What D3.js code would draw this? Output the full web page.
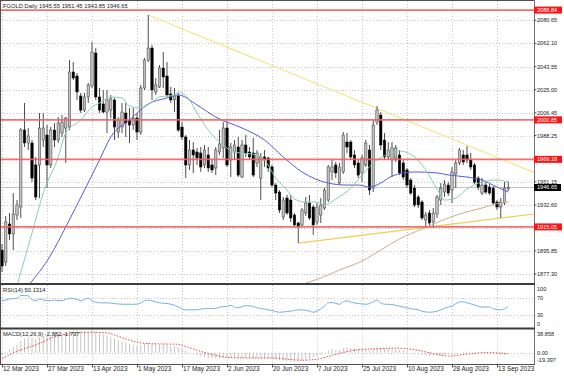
<!DOCTYPE html>
<html>
<head>
<meta charset="utf-8">
<script src="https://cdn.jsdelivr.net/npm/d3@7"></script>
<style>
  body { margin: 0; background: #fff; }
  svg { display: block; font-family: 'Liberation Sans', Arial, sans-serif; }
</style>
</head>
<body>
<div class="svg-container"></div>
<script>
// FGOLD daily bars, one value per bar
const opens = [
  1896.5, 1886.9, 1917.4, 1909.4, 1924.6, 1931.0, 1992.7, 1982.3, 1982.3, 1964.7,
  1964.7, 1984.7, 1988.7, 1964.7, 1992.7, 1984.7, 1990.3, 1994.3, 1995.1, 2039.2,
  2036.0, 2020.0, 2008.7, 2019.2, 2028.0, 2054.4, 2019.2, 2013.6, 2007.1, 2008.7,
  2016.8, 1991.1, 1995.1, 2006.3, 2000.7, 1996.7, 2002.3, 1991.1, 2026.4, 2048.8,
  2058.4, 2023.2, 2027.2, 2042.4, 2036.0, 2021.6, 2016.8, 2020.0, 1995.1, 1987.1,
  1964.7, 1976.7, 1975.1, 1974.3, 1964.7, 1972.7, 1964.7, 1962.3, 1975.1, 1978.3,
  1994.3, 1968.7, 1975.1, 1979.1, 1955.0, 1980.7, 1975.1, 1974.3, 1966.3, 1954.2,
  1971.1, 1970.3, 1963.1, 1948.6, 1943.0, 1923.0, 1938.2, 1936.6, 1924.6, 1918.2,
  1916.6, 1926.2, 1934.2, 1931.0, 1919.0, 1924.6, 1930.2, 1936.6, 1959.1, 1964.7,
  1950.2, 1959.1, 1983.1, 1983.1, 1972.7, 1966.3, 1958.3, 1964.7, 1976.7, 1946.2,
  1999.1, 2004.7, 1984.7, 1971.1, 1968.7, 1970.3, 1972.7, 1966.3, 1960.7, 1952.6,
  1946.2, 1939.0, 1935.0, 1920.6, 1926.2, 1919.0, 1925.4, 1936.6, 1943.0, 1948.6,
  1944.6, 1957.5, 1966.3, 1972.7, 1972.7, 1968.7, 1964.7, 1954.2, 1942.2, 1948.6,
  1947.0, 1946.2, 1935.0, 1931.0, 1934.2, 1945.55
];
const highs = [
  1901.3, 1923.8, 1926.2, 1942.2, 1936.6, 1994.3, 2014.4, 1994.3, 1984.7, 1971.1,
  2006.3, 2006.3, 1996.7, 1995.1, 1998.3, 2003.1, 2004.7, 2003.1, 2048.8, 2047.2,
  2038.4, 2022.4, 2022.4, 2030.4, 2063.3, 2058.4, 2026.4, 2024.8, 2024.8, 2020.8,
  2018.4, 2003.1, 2014.4, 2014.4, 2010.3, 2010.3, 2006.3, 2028.8, 2050.4, 2084.9,
  2060.9, 2034.4, 2044.8, 2055.2, 2047.2, 2027.2, 2026.4, 2022.4, 1999.1, 1988.7,
  1984.7, 1983.1, 1978.3, 1979.1, 1980.7, 1979.1, 1968.7, 1979.1, 1992.7, 1999.1,
  1999.1, 1982.3, 1984.7, 1987.1, 1984.7, 1988.7, 1979.1, 1986.3, 1976.7, 1974.3,
  1976.7, 1971.1, 1964.7, 1950.2, 1944.6, 1939.0, 1940.6, 1940.6, 1926.2, 1919.0,
  1930.2, 1939.0, 1940.6, 1932.6, 1934.2, 1938.2, 1946.2, 1964.7, 1968.7, 1967.1,
  1966.3, 1991.1, 1990.3, 1984.7, 1976.7, 1968.7, 1972.7, 1984.7, 1980.7, 2000.7,
  2011.9, 2007.1, 1990.3, 1983.1, 1983.1, 1980.7, 1976.7, 1968.7, 1962.3, 1954.2,
  1948.6, 1940.6, 1936.6, 1927.0, 1928.6, 1930.2, 1940.6, 1950.2, 1952.6, 1951.0,
  1963.1, 1968.7, 1978.3, 1976.7, 1979.9, 1974.3, 1966.3, 1955.8, 1954.2, 1951.0,
  1949.4, 1947.8, 1936.6, 1938.2, 1951.0, 1951.45
];
const lows = [
  1878.9, 1883.7, 1904.5, 1896.5, 1920.6, 1922.2, 1979.1, 1976.7, 1951.0, 1936.6,
  1938.2, 1979.1, 1946.2, 1962.3, 1979.1, 1982.3, 1987.1, 1966.3, 1992.7, 2032.8,
  2016.8, 2006.3, 2007.1, 2014.4, 2026.4, 2016.8, 2006.3, 2006.3, 1990.3, 2002.3,
  1984.7, 1986.3, 1990.3, 1987.1, 1982.3, 1992.7, 1984.7, 1988.7, 2024.8, 2047.2,
  2016.8, 2020.8, 2026.4, 2026.4, 2019.2, 2014.4, 2007.1, 1991.1, 1984.7, 1954.2,
  1960.7, 1958.3, 1964.7, 1959.1, 1962.3, 1959.1, 1958.3, 1956.6, 1972.7, 1970.3,
  1963.1, 1955.0, 1968.7, 1955.0, 1954.2, 1971.1, 1968.7, 1955.0, 1963.1, 1936.6,
  1963.1, 1959.1, 1947.0, 1936.6, 1926.2, 1920.6, 1924.6, 1919.0, 1915.0, 1902.1,
  1915.0, 1923.8, 1920.6, 1908.6, 1916.6, 1918.2, 1928.6, 1935.0, 1952.6, 1954.2,
  1948.6, 1957.5, 1974.3, 1968.7, 1962.3, 1954.2, 1951.0, 1963.1, 1940.6, 1943.0,
  1996.7, 1976.7, 1968.7, 1968.7, 1955.0, 1967.1, 1956.6, 1952.6, 1946.2, 1940.6,
  1931.0, 1930.2, 1920.6, 1915.0, 1915.8, 1914.2, 1922.2, 1932.6, 1939.0, 1939.8,
  1934.2, 1946.2, 1964.7, 1964.7, 1966.3, 1960.7, 1949.4, 1944.6, 1940.6, 1941.4,
  1940.6, 1932.6, 1928.6, 1922.2, 1932.6, 1943.85
];
const closes = [
  1883.7, 1919.0, 1909.4, 1925.4, 1932.6, 1992.7, 1982.3, 1987.9, 1954.2, 1939.0,
  1994.3, 1994.3, 1964.7, 1992.7, 1984.7, 1998.3, 1999.1, 2002.3, 2039.2, 2034.4,
  2023.2, 2008.7, 2019.2, 2028.8, 2055.2, 2019.2, 2008.7, 2007.1, 2016.8, 2017.6,
  1995.1, 2000.7, 2007.1, 1998.3, 1996.7, 2002.3, 1991.1, 2026.4, 2048.8, 2058.4,
  2024.8, 2028.8, 2042.4, 2035.2, 2020.8, 2016.8, 2020.0, 1992.7, 1987.1, 1964.7,
  1976.7, 1972.7, 1970.3, 1963.1, 1976.7, 1962.3, 1960.7, 1976.7, 1981.5, 1994.3,
  1964.7, 1979.1, 1980.7, 1956.6, 1980.7, 1974.3, 1971.1, 1956.6, 1974.3, 1971.1,
  1968.7, 1962.3, 1948.6, 1942.2, 1928.6, 1936.6, 1926.2, 1922.2, 1916.6, 1915.0,
  1928.6, 1934.2, 1922.2, 1916.6, 1931.0, 1932.6, 1944.6, 1963.1, 1963.1, 1958.3,
  1963.1, 1988.7, 1979.1, 1971.1, 1964.7, 1956.6, 1970.3, 1982.3, 1944.6, 1996.7,
  2008.7, 1980.7, 1971.1, 1976.7, 1978.3, 1978.3, 1958.3, 1955.0, 1948.6, 1942.2,
  1932.6, 1932.6, 1922.2, 1924.6, 1918.2, 1926.2, 1939.0, 1946.2, 1949.4, 1942.2,
  1959.1, 1966.3, 1976.7, 1967.1, 1968.7, 1963.1, 1951.0, 1947.0, 1948.6, 1943.0,
  1942.2, 1934.2, 1931.0, 1935.0, 1946.2, 1946.65
];

// time scale labels (bar index of each label)
const dateIdx = [0, 12, 24, 36, 48, 60, 72, 84, 96, 108, 120, 132];
const dateLabels = ['12 Mar 2023', '27 Mar 2023', '13 Apr 2023', '1 May 2023', '17 May 2023', '2 Jun 2023',
  '20 Jun 2023', '7 Jul 2023', '25 Jul 2023', '10 Aug 2023', '28 Aug 2023', '13 Sep 2023'];

// price scale labels
const priceTicks = [2080.65, 2062.10, 2043.55, 2025.00, 2006.45, 1988.25, 1969.70, 1951.15, 1932.60, 1914.05, 1895.85, 1877.30];

// horizontal levels and last price
const levels = [2088.84, 2000.85, 1969.18, 1915.05];
const lastPrice = 1946.65;

// moving averages (bar index / price)
const maFastIdx = [4, 8, 11, 15, 17, 21, 24, 26, 29, 32, 34, 37, 40, 42, 46, 47, 50, 52, 55, 58, 62, 68, 70, 73, 76, 78, 81, 84, 86, 89, 93, 96, 100, 104, 106, 110, 113, 116, 118, 121, 124, 128, 132, 135];
const maFastVal = [1868.0, 1910.2, 1942.2, 1971.1, 1990.3, 2000.7, 2011.2, 2014.4, 2019.2, 2018.4, 2011.9, 2010.3, 2015.2, 2019.2, 2020.8, 2023.2, 2016.8, 2006.3, 1992.7, 1983.1, 1975.1, 1972.7, 1968.7, 1954.2, 1944.6, 1937.4, 1935.0, 1935.0, 1932.6, 1937.4, 1946.2, 1956.6, 1968.7, 1974.3, 1975.9, 1971.1, 1960.7, 1945.4, 1936.6, 1938.2, 1945.4, 1951.0, 1952.6, 1951.0];
const maMidIdx = [7, 13, 17, 22, 26, 29, 34, 39, 44, 47, 52, 57, 64, 70, 75, 80, 87, 92, 95, 98, 101, 104, 110, 116, 119, 124, 128, 132, 135];
const maMidVal = [1868.0, 1892.5, 1915.0, 1944.6, 1968.7, 1987.1, 2000.7, 2013.6, 2018.4, 2020.8, 2012.8, 2003.1, 1994.3, 1984.7, 1971.1, 1959.1, 1950.2, 1948.6, 1948.6, 1947.0, 1950.2, 1955.8, 1959.1, 1958.3, 1956.7, 1955.0, 1952.6, 1947.0, 1943.0];
const maSlowIdx = [79, 85, 90, 96, 101, 106, 112, 117, 122, 128, 133, 135];
const maSlowVal = [1868.0, 1874.1, 1880.5, 1887.7, 1896.5, 1905.4, 1913.4, 1919.8, 1925.4, 1930.2, 1934.2, 1935.0];

// trend lines (bar index / price at both ends)
const trendDownIdx = [39, 141.9];
const trendDownVal = [2084.9, 1958.6];
const trendUpIdx = [79, 141.9];
const trendUpVal = [1902.1, 1925.4];

// RSI(14)
const rsiIdx = [0, 1, 2, 4, 5, 7, 8, 9, 10, 11, 13, 14, 16, 17, 18, 20, 21, 22, 23, 24, 26, 28, 30, 32, 34, 36, 37, 38, 39, 41, 42, 44, 46, 47, 49, 50, 52, 53, 55, 57, 58, 60, 61, 62, 63, 65, 67, 68, 70, 72, 74, 76, 78, 79, 80, 82, 83, 84, 85, 86, 87, 88, 90, 91, 92, 93, 95, 97, 98, 99, 100, 101, 102, 103, 105, 107, 109, 111, 112, 114, 116, 117, 119, 120, 121, 123, 124, 126, 127, 128, 130, 131, 133, 134, 135];
const rsiVal = [64, 65.7, 68.3, 70, 77, 76, 67.4, 64, 68.3, 65.7, 64, 65.7, 64, 67.4, 70, 67.4, 64, 67.4, 70, 64, 58.9, 58.9, 57.2, 55.5, 55.5, 55.5, 58.9, 64, 65.7, 61.5, 58.9, 57.2, 53, 48.7, 41.9, 41.9, 41.9, 43.6, 45.3, 45.3, 48.7, 50.4, 53, 48.7, 47, 52.1, 50.4, 47, 43.6, 40.2, 36, 37.7, 40.2, 41.9, 41.9, 38.5, 36, 38.5, 44.5, 50.4, 58.9, 59.7, 55.5, 61.5, 64, 60.6, 57.2, 55.5, 57.2, 61.5, 65.7, 58.9, 55.5, 55.5, 53, 48.7, 44.5, 41.9, 38.5, 36, 38.5, 41.9, 48.7, 50.4, 57.2, 61.5, 58.9, 53.8, 50.4, 48.7, 48.7, 44.5, 41.9, 44.5, 50.1314];
const rsiLevels = [70, 30];

// MACD(12,26,9): histogram per bar, signal read at some bars
const macdMain = [
  -4, 2, 6, 10, 13, 20, 24, 26, 26, 24,
  27, 29, 28, 30, 31, 32, 33, 33, 37, 38,
  38.5, 37, 36.5, 36, 38.8, 36, 33, 31, 29, 27,
  24, 21, 19, 17, 15, 13, 11.5, 13, 15.5, 17,
  15, 14.5, 14.5, 14, 13, 11.5, 11, 8.5, 6, 3,
  0.5, -2, -4, -6, -7, -8.5, -9.5, -10, -9.5, -8.5,
  -9, -9, -9, -10, -9.5, -9, -9.5, -10, -10, -10,
  -9.5, -10, -11, -12, -13, -13.5, -14, -14.5, -15, -15,
  -14, -12, -10, -8, -6, -3, 0, 4, 6, 5,
  5, 8, 9, 8, 7, 6, 6, 6.5, 4, 6.5,
  9, 8.5, 7.5, 7, 6.5, 6, 5, 3.5, 2, 0.5,
  -1, -2.5, -4, -5, -5.5, -6, -5.5, -5, -4, -3.5,
  -2, -1, 0, 1, 1.5, 2, 1.5, 1, 0.5, 0,
  -0.5, -1.5, -2.5, -3.5, -3.5, -2.882
];
const signalIdx = [0, 4, 9, 14, 19, 23, 28, 31, 34, 38, 43, 47, 49, 53, 57, 61, 67, 72, 76, 80, 84, 88, 92, 95, 100, 105, 110, 115, 119, 124, 129, 133, 135];
const signalVal = [-10.1, 2.3, 13.3, 26.9, 33.4, 35, 34, 28, 21.4, 16, 14.9, 14.4, 10.5, 2.3, -4.7, -8.5, -9.1, -9.1, -11.2, -12.9, -11.2, -4.7, 1.8, 5.1, 6.7, 7.8, 5.1, -1.4, -5.8, -2.5, 0.0, -0.8, -1.737];
const macdRange = [-19.397, 38.858];

// layout
const width = 564;
const height = 376;
const plotRight = 534;
const main = { top: 1, bottom: 284 };
const rsiPanel = { top: 284, bottom: 328.5 };
const macdPanel = { top: 328.5, bottom: 364.5 };

const svg = d3.select('.svg-container')
  .append('svg')
  .attr('width', width)
  .attr('height', height);

svg.append('rect').attr('width', width).attr('height', height).attr('fill', '#fff');

// scales
const x = d3.scaleLinear().domain([0, 135]).range([2, 508.25]);
const y = d3.scaleLinear().domain([1877.30, 2080.65]).range([274, 20.3]);
const yRsi = d3.scaleLinear().domain([0, 100]).range([327, 286]);
const yMacd = d3.scaleLinear().domain(macdRange).range([364, 330]);

const defs = svg.append('defs');
defs.append('clipPath').attr('id', 'clip-main')
  .append('rect').attr('x', 1).attr('y', main.top).attr('width', plotRight - 1).attr('height', main.bottom - main.top - 1);

// dotted grid
const grid = svg.append('g')
  .attr('stroke', '#c6c6c6')
  .attr('stroke-width', 1)
  .attr('stroke-dasharray', '1,2');
priceTicks.forEach((v) => {
  const yy = Math.round(y(v)) + 0.5;
  grid.append('line').attr('x1', 1).attr('x2', plotRight).attr('y1', yy).attr('y2', yy);
});
dateIdx.forEach((i) => {
  const xx = Math.round(x(i)) + 0.5;
  [[main.top, main.bottom - 1], [rsiPanel.top + 1, rsiPanel.bottom - 1], [macdPanel.top + 1, macdPanel.bottom]].forEach((r) => {
    grid.append('line').attr('x1', xx).attr('x2', xx).attr('y1', r[0]).attr('y2', r[1]);
  });
});
rsiLevels.forEach((v) => {
  const yy = Math.round(yRsi(v)) + 0.5;
  grid.append('line').attr('x1', 1).attr('x2', plotRight).attr('y1', yy).attr('y2', yy);
});
grid.append('line').attr('x1', 1).attr('x2', plotRight)
  .attr('y1', Math.round(yMacd(0)) + 0.5).attr('y2', Math.round(yMacd(0)) + 0.5);

const plot = svg.append('g').attr('clip-path', 'url(#clip-main)');

// last price line
plot.append('line')
  .attr('x1', 1).attr('x2', plotRight)
  .attr('y1', y(lastPrice)).attr('y2', y(lastPrice))
  .attr('stroke', '#c4c4c4').attr('stroke-width', 1);

// trend lines
const trendLine = (idx, val) => d3.line().x((d) => x(d)).y((d, k) => y(val[k]))(idx);
plot.append('path').attr('d', trendLine(trendDownIdx, trendDownVal))
  .attr('fill', 'none').attr('stroke', '#f3e68c').attr('stroke-width', 1.2);
plot.append('path').attr('d', trendLine(trendUpIdx, trendUpVal))
  .attr('fill', 'none').attr('stroke', '#f1cd55').attr('stroke-width', 1.2);

// candles
const bars = d3.range(opens.length);
plot.selectAll('.wick')
  .data(bars)
  .enter()
  .append('line')
  .attr('class', 'wick')
  .attr('x1', (i) => x(i)).attr('x2', (i) => x(i))
  .attr('y1', (i) => y(highs[i])).attr('y2', (i) => y(lows[i]))
  .attr('stroke', '#3a3a3a').attr('stroke-width', 0.9);
plot.selectAll('.body')
  .data(bars)
  .enter()
  .append('rect')
  .attr('class', 'body')
  .attr('x', (i) => x(i) - 1.2)
  .attr('width', 2.4)
  .attr('y', (i) => y(Math.max(opens[i], closes[i])))
  .attr('height', (i) => Math.max(1, Math.abs(y(opens[i]) - y(closes[i]))))
  .attr('fill', (i) => (closes[i] >= opens[i] ? '#c2c2c2' : '#000'))
  .attr('stroke', (i) => (closes[i] >= opens[i] ? '#3a3a3a' : '#000'))
  .attr('stroke-width', 0.5);

// moving averages
const maLine = (idx, val) => d3.line().x((d) => x(d)).y((d, k) => y(val[k])).curve(d3.curveMonotoneX)(idx);
plot.append('path').attr('d', maLine(maSlowIdx, maSlowVal))
  .attr('fill', 'none').attr('stroke', '#c9ae8c').attr('stroke-width', 1);
plot.append('path').attr('d', maLine(maMidIdx, maMidVal))
  .attr('fill', 'none').attr('stroke', '#5a5ad6').attr('stroke-width', 1);
plot.append('path').attr('d', maLine(maFastIdx, maFastVal))
  .attr('fill', 'none').attr('stroke', '#86cfae').attr('stroke-width', 1);

// red horizontal levels
levels.forEach((v) => {
  plot.append('line')
    .attr('x1', 1).attr('x2', plotRight)
    .attr('y1', y(v)).attr('y2', y(v))
    .attr('stroke', '#f06262').attr('stroke-width', 1.6).attr('opacity', 0.9);
});

// RSI line
svg.append('path')
  .attr('d', d3.line().x((d) => x(d)).y((d, k) => yRsi(rsiVal[k])).curve(d3.curveMonotoneX)(rsiIdx))
  .attr('fill', 'none').attr('stroke', '#73b2e6').attr('stroke-width', 1);

// MACD histogram and signal
svg.selectAll('.hist')
  .data(bars)
  .enter()
  .append('line')
  .attr('class', 'hist')
  .attr('x1', (i) => x(i)).attr('x2', (i) => x(i))
  .attr('y1', yMacd(0)).attr('y2', (i) => yMacd(macdMain[i]))
  .attr('stroke', '#c4c4c4').attr('stroke-width', 1);
svg.append('path')
  .attr('d', d3.line().x((d) => x(d)).y((d, k) => yMacd(signalVal[k])).curve(d3.curveMonotoneX)(signalIdx))
  .attr('fill', 'none').attr('stroke', '#e5474f').attr('stroke-width', 1).attr('stroke-dasharray', '1.5,1.5');

// panel frames
const frame = svg.append('g').attr('stroke', '#505050').attr('fill', 'none');
frame.append('line').attr('x1', 0).attr('x2', plotRight).attr('y1', 0.5).attr('y2', 0.5);
frame.append('line').attr('x1', 0.5).attr('x2', 0.5).attr('y1', 0).attr('y2', macdPanel.bottom);
frame.append('line').attr('x1', plotRight + 0.5).attr('x2', plotRight + 0.5).attr('y1', 0).attr('y2', macdPanel.bottom).attr('stroke', '#707070');
frame.append('line').attr('x1', 0).attr('x2', plotRight + 1).attr('y1', main.bottom).attr('y2', main.bottom).attr('stroke-width', 2).attr('stroke', '#3c3c3c');
frame.append('line').attr('x1', 0).attr('x2', plotRight + 1).attr('y1', rsiPanel.bottom).attr('y2', rsiPanel.bottom).attr('stroke-width', 2).attr('stroke', '#3c3c3c');
frame.append('line').attr('x1', 0).attr('x2', plotRight + 1).attr('y1', macdPanel.bottom).attr('y2', macdPanel.bottom);

// texts
const txt = svg.append('g').attr('fill', '#222').style('font-size', '5.8px');
txt.append('text').attr('x', 3).attr('y', 8.3).text('FGOLD,Daily  1945.55 1951.45 1943.85 1946.65');
txt.append('text').attr('x', 3).attr('y', 291.5).text('RSI(14) 50.1314');
txt.append('text').attr('x', 3).attr('y', 335.5).text('MACD(12,26,9) -2.882 -1.737');

// price axis
const axisG = svg.append('g').style('font-size', '5.6px').attr('fill', '#222');
priceTicks.forEach((v) => {
  axisG.append('line').attr('x1', plotRight).attr('x2', plotRight + 2.5)
    .attr('y1', y(v)).attr('y2', y(v)).attr('stroke', '#505050');
  axisG.append('text').attr('x', 537).attr('y', y(v)).attr('dominant-baseline', 'central').text(v.toFixed(2));
});

// level labels
levels.forEach((v) => {
  axisG.append('rect').attr('x', plotRight).attr('y', y(v) - 3.5).attr('width', 28).attr('height', 7).attr('fill', '#ff1414');
  axisG.append('text').attr('x', 537).attr('y', y(v)).attr('dominant-baseline', 'central').attr('fill', '#fff').text(v.toFixed(2));
});
axisG.append('rect').attr('x', plotRight).attr('y', y(lastPrice) - 3.5).attr('width', 27).attr('height', 7).attr('fill', '#000');
axisG.append('text').attr('x', 537).attr('y', y(lastPrice)).attr('dominant-baseline', 'central').attr('fill', '#fff').text(lastPrice.toFixed(2));

// RSI and MACD scale labels
const clampIn = (v, top, bottom) => Math.min(Math.max(v, top + 5), bottom - 4.5);
[100, 70, 30, 0].forEach((v) => {
  axisG.append('text').attr('x', 537).attr('y', clampIn(yRsi(v), rsiPanel.top, rsiPanel.bottom))
    .attr('dominant-baseline', 'central').text(v);
});
[[macdRange[1], '38.858'], [0, '0.00'], [macdRange[0], '-19.397']].forEach((d) => {
  axisG.append('text').attr('x', 537).attr('y', clampIn(yMacd(d[0]), macdPanel.top, macdPanel.bottom))
    .attr('dominant-baseline', 'central').text(d[1]);
});

// time axis
const timeG = svg.append('g').style('font-size', '6.4px').attr('fill', '#222');
dateIdx.forEach((i, k) => {
  const xx = Math.round(x(i)) + 0.5;
  timeG.append('line').attr('x1', xx).attr('x2', xx).attr('y1', macdPanel.bottom).attr('y2', macdPanel.bottom + 3).attr('stroke', '#505050');
  timeG.append('text').attr('x', xx + 0.5).attr('y', 370.5).text(dateLabels[k]);
});
</script>
</body>
</html>
